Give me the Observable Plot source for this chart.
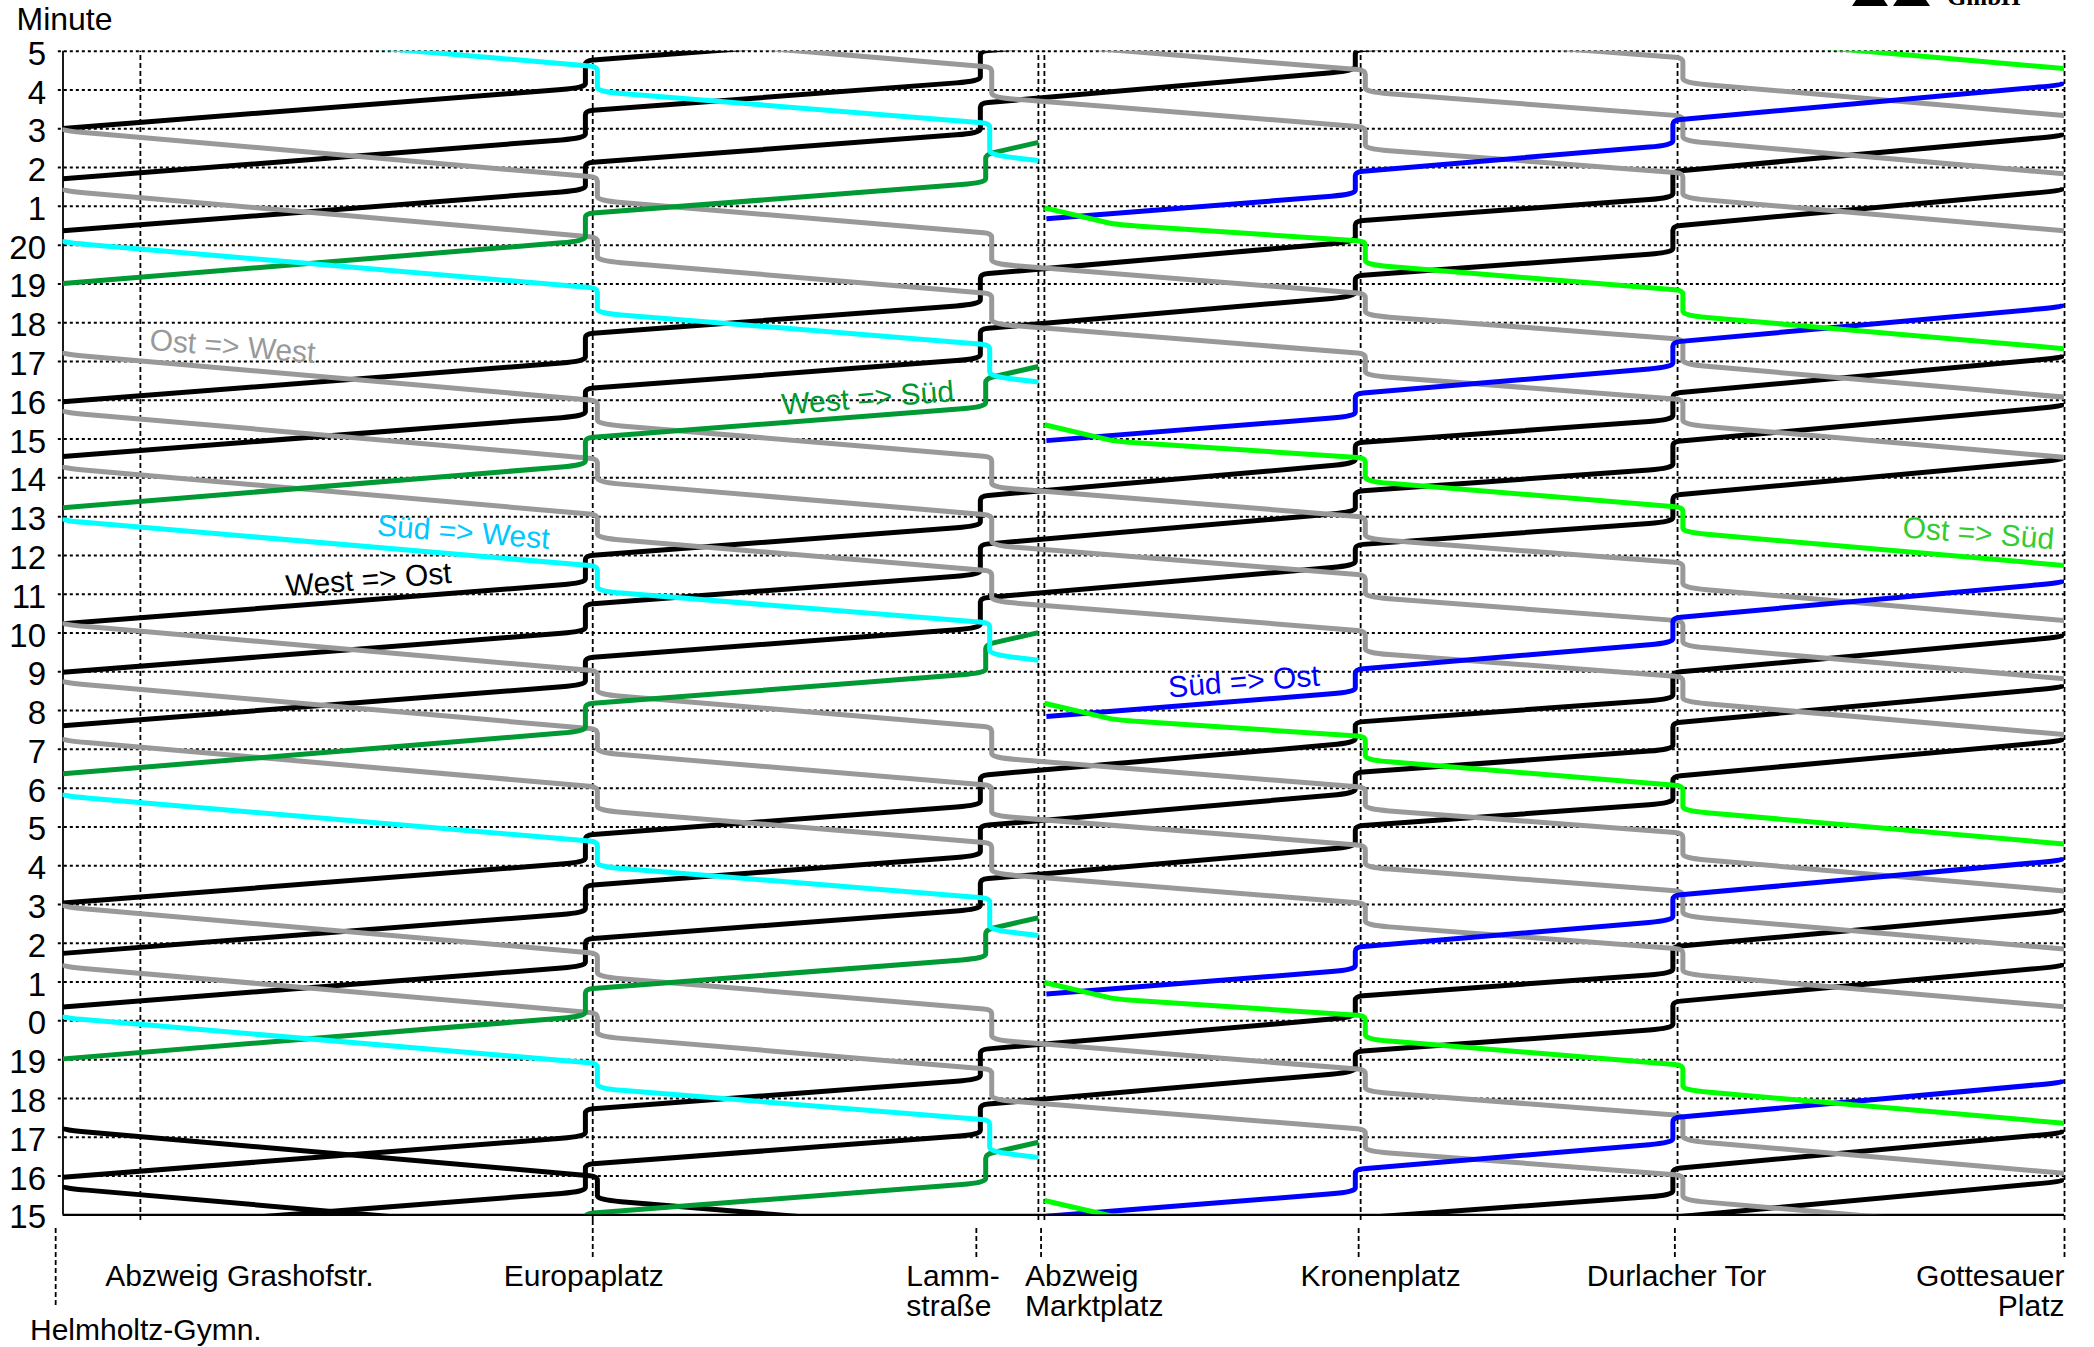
<!DOCTYPE html>
<html>
<head>
<meta charset="utf-8">
<script src="https://cdn.jsdelivr.net/npm/d3@7"></script>
<script src="https://cdn.jsdelivr.net/npm/@observablehq/plot@0.6"></script>
<style>
  html, body { margin: 0; padding: 0; background: #fff; }
  #wrap { position: relative; width: 2094px; height: 1347px; overflow: hidden; background: #fff; }
  #logo { position: absolute; left: 0; top: 0; }
</style>
</head>
<body>
<div id="wrap"></div>
<script>
// ---------- data ----------
// stations along the line (distance in metres from Helmholtz-Gymn.)
const stationNames = ["Helmholtz-Gymn.", "Abzweig Grashofstr.", "Europaplatz", "Lammstraße",
                      "Abzweig Marktplatz", "Kronenplatz", "Durlacher Tor", "Gottesauer Platz"];
const stationPos = [0, 116, 794, 1369, 1466, 1945, 2420, 3000];
const marktplatzTracks = [1462, 1471];

// minute tick labels, bottom (t = 0) to top (t = 30)
const minuteTicks = d3.range(0, 31);
const minuteLabels = ["15","16","17","18","19","0","1","2","3","4","5","6","7","8","9","10",
  "11","12","13","14","15","16","17","18","19","20","1","2","3","4","5"];

// running-time profiles: [position (m), minutes after first point]
const profWestOst = [[0,0],[783,1.05],[783,1.75],[1375,2.52],[1375,3.29],[1937,4.13],[1937,4.66],
                     [2413,5.26],[2413,5.94],[2997,6.86],[2997,6.94]];
const profOstWest = [[3000,0],[2428,0.85],[2428,1.49],[1952,2.11],[1952,2.67],[1392,3.44],[1392,4.22],
                     [801,5.07],[801,5.67],[0,6.87],[0,6.95]];
const profWestSued = [[0,0],[783,1.1],[783,1.8],[1383,2.6],[1383,3.33],[1462,3.64]];
const profSuedWest = [[1462,0],[1389,0.15],[1389,0.96],[801,1.78],[801,2.42],[0,3.6],[0,3.68]];
const profSuedOst  = [[1474,0],[1937,0.63],[1937,1.21],[2413,1.9],[2413,2.54],[2997,3.45],[2997,3.53]];
const profOstSued  = [[3000,0],[2428,0.86],[2428,1.5],[1952,2.17],[1952,2.77],[1578,3.2],[1471,3.63]];

// start times of the trips (minutes on the chart's time axis)
const depWestOst  = [-6.0, -4.75, -0.45, 0.97, 5.36, 6.74, 8.04, 12.61, 13.99, 15.24, 19.55, 20.96, 25.37, 26.71, 28.01];
const depOstWest  = [-0.47, 1.07, 5.36, 6.85, 8.35, 12.38, 13.82, 15.32, 19.53, 21.08, 25.37, 26.84, 28.34];
const depOstWestBlack = [-6.18, -4.68];
const depWestSued = [-1.77, 4.02, 11.37, 18.23, 24.01];
const depSuedWest = [1.48, 7.2, 14.3, 21.47, 27.18];
const depSuedOst  = [-0.04, 5.69, 12.85, 19.96, 25.68];
const depOstSued  = [-3.26, 2.36, 9.56, 16.74, 22.33, 29.55];

// ---------- build rows ----------
function tripRows(key, deps, profile) {
  const rows = [];
  deps.forEach((d, i) => profile.forEach(([x, r]) => rows.push({id: key + i, x, t: d + r})));
  return rows;
}
const rowsWO  = tripRows("wo", depWestOst, profWestOst);
const rowsOW  = tripRows("ow", depOstWest, profOstWest);
const rowsOWb = tripRows("owb", depOstWestBlack, profOstWest);
const rowsWS  = tripRows("ws", depWestSued, profWestSued);
const rowsSW  = tripRows("sw", depSuedWest, profSuedWest);
const rowsSO  = tripRows("so", depSuedOst, profSuedOst);
const rowsOS  = tripRows("os", depOstSued, profOstSued);

// curve: straight runs with rounded corners at stops (short arms on the dwell verticals)
function roundedStops(context) {
  let pts = [];
  const A_IN = 24, A_OUT = 8, A_V = 4;
  return {
    areaStart() {}, areaEnd() {},
    lineStart() { pts = []; },
    point(x, y) { pts.push([+x, +y]); },
    lineEnd() {
      const n = pts.length;
      if (!n) return;
      context.moveTo(pts[0][0], pts[0][1]);
      for (let i = 1; i < n - 1; i++) {
        const [x0, y0] = pts[i - 1], [x1, y1] = pts[i], [x2, y2] = pts[i + 1];
        const d1 = Math.hypot(x1 - x0, y1 - y0), d2 = Math.hypot(x2 - x1, y2 - y1);
        if (d1 < 1e-6 || d2 < 1e-6) { context.lineTo(x1, y1); continue; }
        const v1 = Math.abs(x1 - x0) < 1, v2 = Math.abs(x2 - x1) < 1;
        const r1 = Math.min(v1 ? A_V : A_IN, 0.45 * d1);
        const r2 = Math.min(v2 ? A_V : A_OUT, 0.45 * d2);
        const ax = x1 - (x1 - x0) / d1 * r1, ay = y1 - (y1 - y0) / d1 * r1;
        const bx = x1 + (x2 - x1) / d2 * r2, by = y1 + (y2 - y1) / d2 * r2;
        context.lineTo(ax, ay);
        context.quadraticCurveTo(x1, y1, bx, by);
      }
      if (n > 1) context.lineTo(pts[n - 1][0], pts[n - 1][1]);
    }
  };
}

const LW = 5;
const lineOpts = (stroke) => ({x: "x", y: "t", z: "id", stroke, strokeWidth: LW, curve: roundedStops,
  clip: true, strokeLinejoin: "round", strokeLinecap: "butt"});

const FONT = "'Liberation Sans', Arial, Helvetica, sans-serif";

// station label specs (text, station index, dx px, dy px, anchor)
const labelSpecs = [
  ["Helmholtz-Gymn.", 0, -33, 124.7, "start"],
  ["Abzweig Grashofstr.", 1, 99, 70.7, "middle"],
  ["Europaplatz", 2, -9, 70.7, "middle"],
  ["Lamm-\nstraße", 3, -70, 100.7, "start"],
  ["Abzweig\nMarktplatz", 4, -16, 100.7, "start"],
  ["Kronenplatz", 5, 20, 70.7, "middle"],
  ["Durlacher Tor", 6, -1, 70.7, "middle"],
  ["Gottesauer\nPlatz", 7, 0, 100.7, "end"]
];
const stationLabelMarks = labelSpecs.map(([txt, i, dx, dy, anchor]) =>
  Plot.text([txt], {x: stationPos[i], y: 0, text: d => d, dx, dy, textAnchor: anchor, lineAnchor: "bottom",
    lineHeight: 1.0, fontSize: 30, fontFamily: FONT, fill: "black"}));

// direction labels: text, position (m), time, colour, rotation
const dirLabels = [
  ["Ost => West", 254, 22.38, "#999999", 4.5],
  ["West => Süd", 1206, 21.05, "#009933", -4.5],
  ["Süd => West", 600, 17.59, "#00c8ff", 4.5],
  ["West => Ost", 458, 16.37, "#000000", -4.5],
  ["Süd => Ost", 1770, 13.74, "#0000ff", -4.5],
  ["Ost => Süd", 2871, 17.56, "#33cc33", 4.5]
];
const dirLabelMarks = dirLabels.map(([txt, x, t, color, rot]) =>
  Plot.text([txt], {x, y: t, text: d => d, fill: color, rotate: rot, fontSize: 30, fontFamily: FONT,
    textAnchor: "middle", lineAnchor: "middle"}));

const innerV = [stationPos[1], stationPos[2], ...marktplatzTracks, stationPos[5], stationPos[6], stationPos[7]];
const belowTicks = [stationPos[3], stationPos[4], 1942, 2416, stationPos[7]];

const chart = Plot.plot({
  width: 2094,
  height: 1347,
  marginLeft: 62.5,
  marginRight: 30,
  marginTop: 50.7,
  marginBottom: 132.7,
  style: {fontFamily: FONT, fontSize: "31px", background: "white", color: "black"},
  x: {domain: [0, 3000], axis: null},
  y: {domain: [0, 30], axis: null},
  marks: [
    // horizontal dotted minute grid
    Plot.ruleY(d3.range(1, 31), {x1: -7, x2: 3000, stroke: "black", strokeWidth: 2, strokeDasharray: "3,3"}),
    // vertical dashed station lines inside the plot
    Plot.ruleX(innerV, {y1: -0.15, y2: 30, stroke: "black", strokeWidth: 1.8, strokeDasharray: "5,3"}),
    Plot.ruleX([stationPos[2]], {y1: -0.15, y2: -1.13, stroke: "black", strokeWidth: 1.8, strokeDasharray: "5,3"}),
    // dashed station ticks below the axis
    Plot.ruleX(belowTicks, {y1: -0.35, y2: -1.13, stroke: "black", strokeWidth: 1.8, strokeDasharray: "5,3"}),
    Plot.ruleX([-11], {y1: -0.35, y2: -2.39, stroke: "black", strokeWidth: 1.8, strokeDasharray: "5,3"}),
    // axes
    Plot.ruleX([0], {y1: 0, y2: 30, stroke: "black", strokeWidth: 1.8}),
    Plot.ruleY([0], {x1: 0, x2: 3000, stroke: "black", strokeWidth: 2.2}),
    // minute tick labels
    Plot.text(minuteTicks, {x: 0, y: d => d, text: d => minuteLabels[d], dx: -17, dy: 3, textAnchor: "end",
      lineAnchor: "middle", fontSize: 33, fontFamily: FONT, fill: "black"}),
    // trips
    Plot.line(rowsWO, lineOpts("black")),
    Plot.line(rowsOWb, lineOpts("black")),
    Plot.line(rowsOW, lineOpts("#999999")),
    Plot.line(rowsWS, lineOpts("#009933")),
    Plot.line(rowsSW, lineOpts("#00ffff")),
    Plot.line(rowsSO, lineOpts("#0000ff")),
    Plot.line(rowsOS, lineOpts("#00ff00")),
    // labels
    ...dirLabelMarks,
    ...stationLabelMarks,
    Plot.text(["Minute"], {frameAnchor: "top-left", text: d => d, dx: -46.5, dy: -21, textAnchor: "start",
      lineAnchor: "bottom", fontSize: 32, fontFamily: FONT}),
    Plot.text(["GmbH"], {frameAnchor: "top-right", text: d => d, dx: -44, dy: -46.5, textAnchor: "end",
      lineAnchor: "bottom", fontSize: 25, fontWeight: "bold", fontFamily: "'Liberation Serif', 'DejaVu Serif', serif"})
  ]
});
const wrap = document.getElementById("wrap");
wrap.appendChild(chart);
// small logo fragment at the top edge
wrap.insertAdjacentHTML("beforeend",
  '<svg id="logo" width="2094" height="12"><polygon points="1852,6 1856,0 1884,0 1888,6" fill="black"/>' +
  '<polygon points="1893,6 1897,0 1926,0 1930,6" fill="black"/></svg>');
</script>
</body>
</html>
